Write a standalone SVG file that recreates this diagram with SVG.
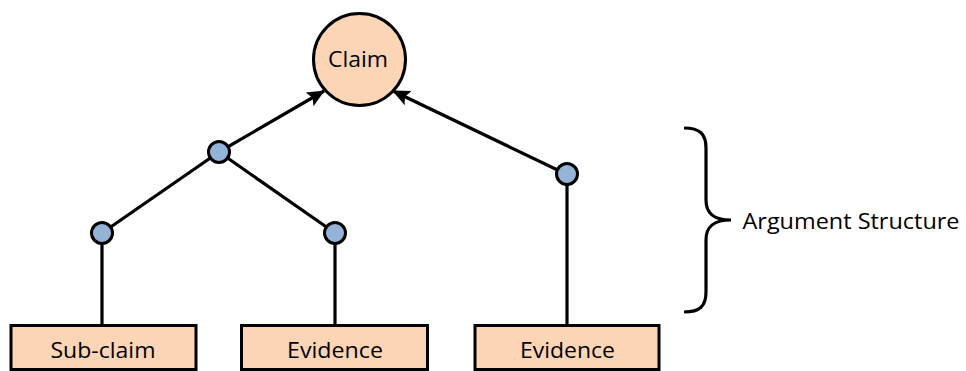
<svg xmlns="http://www.w3.org/2000/svg" width="966" height="371" viewBox="0 0 966 371">
<defs>
<marker id="arr" viewBox="0 0 10 10" refX="9.5" refY="5" markerWidth="5.5" markerHeight="5.5" orient="auto" markerUnits="strokeWidth">
<path d="M0,0.5 L10,5 L0,9.5 L2,5 z" fill="#000"/>
</marker>
<style>
.peach{fill:#FBD5B5;stroke:#000;stroke-width:3}
.dot{fill:#95B3D7;stroke:#000;stroke-width:3}
.ln{stroke:#000;stroke-width:3.2;fill:none}
text{font-family:"Open Sans","Liberation Sans",sans-serif;font-size:21px;fill:#000;text-anchor:middle}
</style>
</defs>
<rect width="966" height="371" fill="#fff"/>
<g id="connectors">
<line class="ln" x1="219" y1="152" x2="324" y2="91" marker-end="url(#arr)"/>
<line class="ln" x1="566" y1="174" x2="393" y2="91" marker-end="url(#arr)"/>
<line class="ln" x1="219" y1="152" x2="102" y2="233"/>
<line class="ln" x1="219" y1="152" x2="335" y2="233"/>
<line class="ln" x1="102" y1="233" x2="102" y2="325"/>
<line class="ln" x1="335" y1="233" x2="335" y2="325"/>
<line class="ln" x1="567" y1="174" x2="567" y2="325"/>
</g>
<g id="claim">
<circle class="peach" cx="359.5" cy="59.5" r="46"/>
<text x="358" y="67" textLength="60" lengthAdjust="spacingAndGlyphs">Claim</text>
</g>
<g id="j1"><circle class="dot" cx="219" cy="152" r="10.5"/></g>
<g id="j2"><circle class="dot" cx="102" cy="233" r="10.5"/></g>
<g id="j3"><circle class="dot" cx="335" cy="233" r="10.5"/></g>
<g id="j4"><circle class="dot" cx="567" cy="174" r="10.5"/></g>
<g id="subclaim">
<rect class="peach" x="11" y="325.5" width="185" height="44"/>
<text x="103" y="358" textLength="105" lengthAdjust="spacingAndGlyphs">Sub-claim</text>
</g>
<g id="evidence1">
<rect class="peach" x="241.5" y="325.5" width="186" height="44"/>
<text x="335" y="358" textLength="96" lengthAdjust="spacingAndGlyphs">Evidence</text>
</g>
<g id="evidence2">
<rect class="peach" x="475" y="325.5" width="184" height="44"/>
<text x="567.5" y="358" textLength="95" lengthAdjust="spacingAndGlyphs">Evidence</text>
</g>
<g id="brace">
<path class="ln" d="M684,128 C700,128 706,134 706,148 L706,200 C706,214 714,220 731,220 C714,220 706,226 706,240 L706,292 C706,306 700,312 684,312"/>
<text x="851" y="229" textLength="217" lengthAdjust="spacingAndGlyphs">Argument Structure</text>
</g>
</svg>
